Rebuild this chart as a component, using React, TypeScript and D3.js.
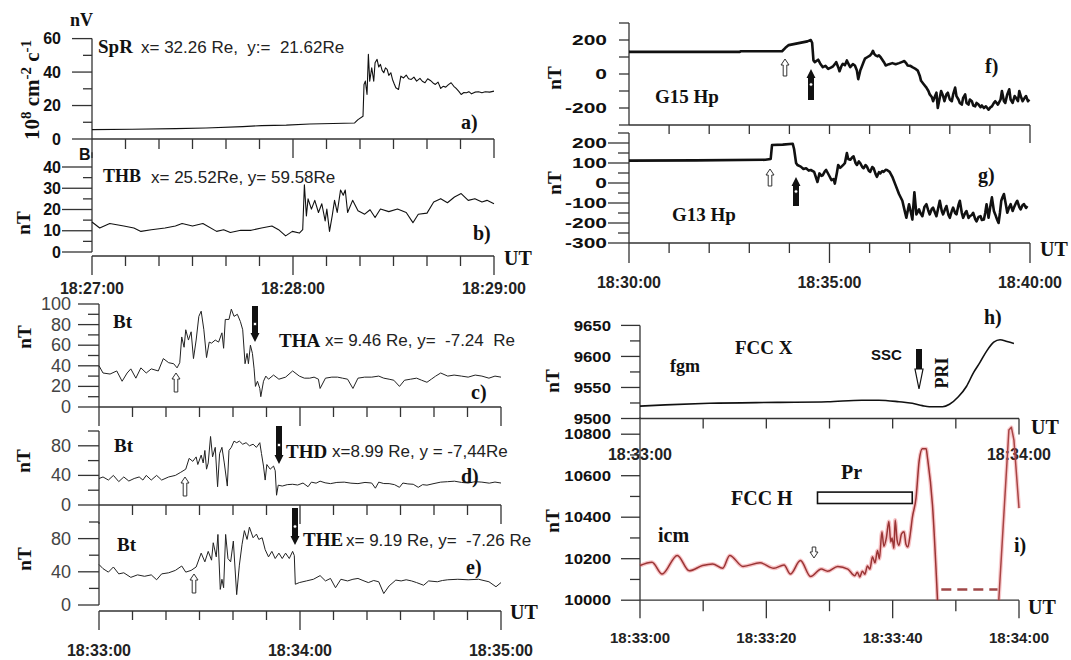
import React from "react";
import * as d3 from "d3";

type Pt = [number, number];

// ---------------- tick labels ----------------
const leftTopTimeLabels = ["18:27:00", "18:28:00", "18:29:00"];
const leftBottomTimeLabels = ["18:33:00", "18:34:00", "18:35:00"];
const goesTimeLabels = ["18:30:00", "18:35:00", "18:40:00"];
const fccXTimeLabels = ["18:33:00", "18:34:00"];
const fccHTimeLabels = ["18:33:00", "18:33:20", "18:33:40", "18:34:00"];

const aMajor = [0, 20, 40, 60];
const aMinor = [10, 30, 50];
const bMajor = [0, 10, 20, 30, 40];
const bMinor = [5, 15, 25, 35];
const cMajor = [0, 20, 40, 60, 80, 100];
const cMinor = [10, 30, 50, 70, 90];
const deMajor = [0, 40, 80];
const deMinor = [20, 60, 100];
const fMajor = [-200, 0, 200];
const fMinor = [-300, -100, 100, 300];
const gMajor = [-300, -200, -100, 0, 100, 200];
const gMinor = [-250, -150, -50, 50, 150, 250];
const hMajor = [9500, 9550, 9600, 9650];
const hMinor = [9525, 9575, 9625];
const iMajor = [10000, 10200, 10400, 10600, 10800];
const iMinor = [10100, 10300, 10500, 10700];

// ---------------- series (seconds from panel start, value) ----------------
// a) SpR flux, from 18:27:00
const sprFlux: Pt[] = [
  [0, 5.6], [12, 5.8], [25, 6.2], [34, 6.6], [45, 7.4], [50.6, 8], [58, 8.3], [65, 9], [72, 9.3], [78.4, 9.6],
  [79.4, 11.6], [80.9, 13.6], [81.2, 32.6], [81.6, 34.6], [82.1, 26.6], [82.5, 50.6], [82.9, 34.6], [83.5, 42.6],
  [84.1, 34.6], [84.5, 45.6], [85.1, 47.6], [85.6, 43], [86.1, 44.6], [86.6, 41], [87.1, 39.6], [87.6, 42.5],
  [88.1, 41.6], [88.6, 38], [89.2, 39.6], [89.7, 35.6], [90.2, 33], [90.7, 30.6], [91.5, 29.6], [92.2, 37.6],
  [93, 36.5], [93.8, 38.2], [94.5, 36], [95.3, 35.6], [96.1, 37], [96.9, 34.6], [97.9, 36.2], [98.6, 34.5],
  [99.4, 33.6], [100.2, 36], [101, 35], [101.8, 33.5], [102.5, 32.6], [103.3, 34], [104.1, 30.2], [104.8, 31.5],
  [105.6, 31], [106.4, 32.5], [107.2, 33.6], [108, 31.5], [108.7, 30.2], [109.5, 28.5], [110.2, 26.6], [111, 27.8],
  [111.8, 27.6], [112.5, 28.3], [113.3, 27], [114.3, 28], [115.4, 28.2], [116.4, 27.6], [117.4, 28.2], [118.7, 28], [120, 28.6],
];

// b) THB |B|, from 18:27:00
const thbB: Pt[] = [
  [0, 14.1], [2.3, 11.3], [5.3, 13.4], [9.5, 12.2], [12.5, 11.3], [14.6, 9.7], [17.7, 10.5], [21.8, 11.3], [24.9, 12.2],
  [26.9, 13.4], [30, 12.2], [33.1, 13.4], [37.2, 9.7], [39.3, 10.5], [41.3, 9.2], [44.4, 10.2], [47.5, 10.2], [50.6, 11.3],
  [53.7, 12.2], [55.7, 10.5], [57.8, 7.6], [59.8, 9.7], [61.9, 8.9], [62.9, 10.5], [63.4, 31.6], [64, 17], [64.5, 25],
  [65.5, 20.2], [66.5, 24.3], [67.6, 18.6], [68.6, 22.7], [69.6, 14.6], [70.1, 20.2], [70.9, 9.7], [71.7, 17], [72.4, 24.3],
  [73.2, 18.6], [74.2, 29.2], [75, 26.7], [75.6, 29.2], [76.3, 18.6], [77.8, 24.3], [79.4, 19.4], [81.4, 17.8], [83, 19.9],
  [84.5, 16.2], [86.1, 20.2], [88.6, 19], [91.2, 20.2], [93.8, 18.6], [95.8, 13.8], [97.4, 17.8], [100, 18.3], [102, 23.5],
  [104.1, 25.1], [106.1, 23.2], [108.2, 25.9], [110.2, 27.5], [112.3, 24.3], [114.3, 25.1], [116.4, 23.5], [117.9, 24.3], [120, 22.7],
];

// c) THA Bt, from 18:33:00
const thaBt: Pt[] = [
  [0, 40], [1.2, 33], [3.3, 32], [5.3, 35], [6.9, 25], [8.4, 33], [9.5, 37], [11, 28], [12.5, 38], [14.1, 33], [15.6, 37],
  [17.7, 35], [19.2, 47], [20.8, 43], [22.3, 42], [23.3, 38], [24.1, 43], [24.7, 68], [25.4, 58], [25.9, 75], [26.7, 65],
  [27.5, 73], [28.2, 47], [29, 65], [29.8, 88], [30.5, 93], [31.3, 75], [32.1, 48], [32.9, 63], [33.6, 62], [34.7, 65],
  [35.7, 63], [36.7, 72], [37.2, 57], [37.7, 85], [38.8, 85], [39.5, 95], [40.3, 88], [41.3, 90], [42.2, 83], [42.9, 75],
  [43.6, 42], [44.2, 52], [44.6, 42], [45.2, 60], [45.8, 52], [46.3, 37], [46.7, 20], [47.3, 25], [48, 18], [48.3, 10],
  [49.1, 25], [49.8, 30], [50.6, 27], [52.1, 31], [53.7, 27], [55.7, 29], [57.8, 35], [59.8, 30], [61.3, 28], [62.9, 28],
  [64.2, 29], [65.5, 27], [66, 18], [67.6, 28], [69.5, 29], [71.2, 29], [72.7, 28], [74.2, 27], [75.8, 18], [77.3, 28],
  [79.3, 29], [81.4, 29], [83.5, 30], [85, 28], [86.6, 27], [88, 26], [89.7, 20], [91.2, 26], [93, 27], [94.8, 28],
  [96.3, 26], [97.9, 24], [99.2, 27], [100.5, 30], [102, 33], [104.1, 30], [106, 31], [108.2, 30], [110.2, 29],
  [112.3, 31], [114.3, 30], [116.4, 28], [118.2, 30], [120, 29],
];

// d) THD Bt, from 18:33:00
const thdBt: Pt[] = [
  [0, 35.8], [1.2, 37.9], [2.8, 33.7], [4.3, 40], [5.9, 31.6], [7.4, 37.9], [8.9, 32.4], [10.5, 35.8], [12, 37.9],
  [13.1, 33.7], [14.1, 40], [15.6, 33.7], [17.2, 40], [18.7, 33.7], [20.8, 37.9], [22.8, 40], [24.4, 44.2], [25.9, 48.4],
  [26.9, 63], [28, 59], [29, 65], [29.5, 54.7], [30.5, 67.4], [31.1, 56.8], [31.6, 73.7], [32.1, 48.4], [32.6, 56.8],
  [33.3, 92.6], [33.9, 65], [34.7, 77.9], [35.4, 24.7], [36, 69.5], [36.7, 77.9], [37.4, 56.8], [38.3, 25.6], [38.8, 73.7],
  [39.5, 77.9], [40.3, 86.3], [41.1, 84.2], [41.9, 86.3], [42.9, 82.1], [43.9, 84.2], [44.9, 80], [46, 82.1], [47, 77.9],
  [48, 84.2], [48.5, 69.5], [49.1, 52.6], [49.6, 33.7], [50.1, 54.7], [51.1, 48.4], [52.1, 52.6], [52.6, 46.3], [53, 13.2],
  [53.5, 26.8], [54.7, 25.6], [56.2, 27.5], [57.8, 28], [59.3, 27], [60.9, 29.7], [62.4, 24.7], [63.4, 30.9], [64.8, 29.5],
  [66, 32.2], [67.5, 30], [69.1, 28.9], [71, 30.5], [73.2, 30.9], [75.2, 29.5], [77.3, 28.9], [79.4, 30.5], [81.4, 29.7],
  [82.5, 22.7], [83.5, 30.9], [85, 29], [86.6, 28.9], [88.2, 27.5], [89.7, 23.9], [90.7, 29.7], [92.2, 28.5], [93.8, 28],
  [95.3, 23.9], [96.6, 27.5], [97.9, 26.8], [100, 29], [102, 30.9], [104, 31.5], [106.1, 32.2], [108.2, 30.5],
  [110.2, 29.7], [112.3, 31.5], [114.3, 30.9], [116.5, 29.5], [118.2, 31], [120, 29.7],
];

// e) THE Bt, from 18:33:00
const theBt: Pt[] = [
  [0, 48.8], [1.2, 43.8], [2.8, 39.6], [4.3, 45.8], [5.9, 37.5], [7.4, 38.8], [9.5, 33.3], [11.5, 36.3], [13.6, 34.6],
  [15.6, 36.3], [17.2, 30.4], [18.7, 37.5], [20.8, 38.8], [22.8, 41.7], [24.7, 47], [25.9, 39.6], [27.5, 41.7], [29, 45.8],
  [30.5, 62.5], [31.6, 52], [32.6, 64.6], [33.6, 54], [34.1, 75], [35, 58], [35.5, 85], [36.2, 18.8], [36.7, 31],
  [37.2, 20.8], [37.8, 85], [38.5, 56], [39.3, 52], [40.1, 77], [41.1, 12.5], [41.9, 48], [42.7, 73], [43.4, 89.6],
  [44.2, 79], [44.9, 93.8], [46, 81], [47, 85.4], [47.7, 79], [48.7, 81], [49.6, 66.7], [50.6, 58], [51.6, 64.6],
  [52.6, 56], [53.7, 62.5], [54.7, 56], [55.7, 62.5], [56.8, 56], [57.8, 64.6], [58.3, 59.6], [58.6, 25], [59.8, 27],
  [61.9, 29], [64, 31], [66, 35.4], [67.6, 29], [69.1, 32], [70.6, 20.8], [72.2, 31], [74.2, 29], [75.8, 31], [77.3, 32],
  [78.8, 29.5], [80.4, 27], [82, 29.5], [83.5, 28], [85, 13.8], [86.6, 23], [88.6, 30], [90.2, 29], [91.7, 30.4],
  [93.3, 29], [94.8, 27], [96.9, 23.8], [98.4, 29], [101, 28], [102.5, 29.5], [104.1, 30.4], [107.1, 31], [110.2, 30.4],
  [113.3, 31], [116.4, 28], [118.5, 22], [120, 27],
];

// f) GOES-15 Hp, from 18:30:00
const g15Hp: Pt[] = [
  [0, 130], [166, 130], [167, 134], [229, 134], [234, 154], [239, 170], [252, 180], [267, 192], [272, 200], [274, 184],
  [276, 80], [278, 70], [283, 84], [286, 62], [290, 40], [294, 48], [298, 30], [302, 38], [305, 44], [308, 58], [310, 70],
  [313, 40], [315, 16], [318, 48], [320, 60], [323, 52], [326, 80], [328, 62], [331, 40], [335, 58], [338, 50], [341, 20],
  [343, -30], [346, 20], [348, 40], [351, 70], [353, 90], [357, 100], [361, 110], [363, 120], [365, 136], [367, 118],
  [369, 110], [372, 104], [374, 110], [377, 96], [379, 84], [382, 66], [384, 50], [389, 58], [394, 64], [399, 58],
  [404, 64], [408, 70], [412, 76], [415, 62], [417, 50], [421, 48], [424, 40], [428, 32], [432, 20], [435, -10],
  [437, -40], [441, -60], [445, -80], [448, -100], [450, -120], [453, -135], [455, -160], [458, -130], [460, -110],
  [462, -200], [465, -140], [467, -100], [470, -130], [472, -160], [475, -120], [477, -110], [480, -150], [483, -160],
  [485, -120], [488, -80], [490, -130], [493, -150], [495, -170], [498, -180], [500, -140], [503, -120], [505, -170],
  [508, -180], [510, -150], [513, -160], [515, -185], [518, -190], [520, -170], [523, -180], [526, -195], [528, -185],
  [531, -200], [534, -190], [538, -210], [541, -195], [543, -190], [546, -170], [548, -160], [552, -180], [556, -150],
  [558, -100], [561, -160], [563, -170], [566, -120], [569, -90], [571, -150], [574, -170], [577, -130], [579, -140],
  [582, -160], [584, -100], [587, -140], [589, -160], [592, -140], [594, -130], [597, -160], [599, -150],
];

// g) GOES-13 Hp, from 18:30:00
const g13Hp: Pt[] = [
  [0, 112], [100, 113], [204, 116], [212, 120], [214, 190], [230, 192], [245, 196], [247, 170], [250, 100], [252, 90],
  [257, 82], [261, 70], [265, 74], [269, 62], [272, 65], [277, 56], [282, 5], [285, 48], [288, 36], [290, 39], [293, 58],
  [295, 65], [299, 40], [303, 14], [306, 20], [308, -3], [311, 50], [313, 90], [316, 76], [318, 82], [321, 92], [323, 99],
  [326, 150], [328, 120], [331, 116], [334, 128], [336, 133], [339, 100], [341, 90], [344, 108], [346, 99], [349, 80],
  [351, 74], [354, 90], [356, 82], [359, 60], [361, 56], [364, 80], [366, 74], [369, 44], [371, 31], [374, 54], [376, 48],
  [379, 60], [381, 56], [384, 66], [386, 65], [390, 56], [394, 31], [399, -12], [404, -55], [409, -89], [412, -132],
  [415, -174], [419, -106], [422, -150], [424, -183], [427, -46], [430, -157], [434, -132], [436, -150], [439, -166],
  [442, -120], [445, -106], [448, -140], [450, -157], [453, -130], [455, -123], [458, -150], [460, -166], [463, -120],
  [465, -89], [468, -140], [470, -157], [473, -130], [475, -115], [478, -160], [480, -174], [483, -140], [485, -123],
  [488, -150], [490, -157], [493, -110], [495, -89], [498, -150], [500, -174], [503, -150], [505, -140], [508, -175],
  [510, -166], [513, -160], [515, -149], [518, -180], [520, -192], [523, -170], [526, -166], [528, -185], [531, -183],
  [533, -150], [535, -106], [537, -150], [538, -174], [541, -110], [543, -72], [546, -140], [548, -157], [551, -185],
  [553, -200], [555, -150], [557, -89], [559, -70], [561, -55], [564, -110], [566, -149], [569, -120], [571, -106],
  [574, -140], [576, -123], [579, -100], [581, -89], [584, -120], [586, -132], [589, -110], [591, -106], [594, -125], [596, -115],
];

// h) FCC X (fgm), from 18:33:00
const fccX: Pt[] = [
  [0, 9520], [4, 9522], [11, 9524.5], [21.7, 9526], [29.7, 9527], [35.1, 9529.5], [37.8, 9529.5], [41, 9527],
  [43.1, 9524.5], [44.7, 9520.7], [45.8, 9519], [47.9, 9519], [49, 9523], [50.4, 9535], [51.7, 9552], [52.8, 9574],
  [53.8, 9590], [54.9, 9609], [56, 9623], [57, 9627], [58.1, 9624], [59.2, 9621],
];

// i) FCC H (icm), from 18:33:00
const fccH: Pt[] = [
  [0, 10167], [1.9, 10183], [3.5, 10126], [5.9, 10216], [7.8, 10142], [9.9, 10167], [11.5, 10175], [13.1, 10154],
  [14.2, 10216], [16.3, 10163], [19, 10180], [21.2, 10154], [22.8, 10170], [23.8, 10126], [25.4, 10191], [27, 10114],
  [28.7, 10150], [29.7, 10140], [31.3, 10163], [32.9, 10150], [34, 10118], [34.4, 10135], [34.8, 10112], [35.2, 10140],
  [35.6, 10125], [36, 10165], [36.4, 10150], [36.8, 10210], [37.2, 10180], [37.6, 10240], [37.9, 10200], [38.3, 10330],
  [38.6, 10260], [39, 10300], [39.4, 10379], [39.7, 10280], [39.9, 10300], [40.2, 10250], [40.4, 10387], [40.7, 10290],
  [41, 10265], [41.4, 10320], [41.8, 10330], [42.1, 10270], [42.4, 10256], [42.7, 10300], [42.9, 10346], [43.1, 10395],
  [43.7, 10493], [44.2, 10673], [44.7, 10730], [45.3, 10730], [45.5, 10689], [46.3, 10460], [47.1, 10000],
];
const fccHGap: Pt[] = [[47.7, 10052], [56.6, 10052]];
const fccHAfter: Pt[] = [[56.8, 10000], [57.6, 10411], [58.4, 10820], [58.8, 10833], [59.2, 10771], [60, 10444]];
const prInterval: Pt[] = [[28.1, 10521], [43.1, 10466]];

// ---------------- drawing helpers ----------------
const SANS = "'Liberation Sans', Arial, Helvetica, sans-serif";
const SERIF = "'Liberation Serif', 'Times New Roman', Times, serif";
const AX = "#333";
type Lin = d3.ScaleLinear<number, number>;

function YAxis(p: {
  x: number; y: Lin; top: number; bottom: number; majors: number[]; minors: number[];
  majLen: number; minLen: number; labelX: number; size: number; weight?: string; color?: string; sx?: number;
}) {
  const sx = p.sx ?? 1;
  return (
    <g>
      <line x1={p.x} x2={p.x} y1={p.y(p.top)} y2={p.y(p.bottom)} stroke={AX} strokeWidth={1.3} />
      {p.majors.map((v) => (
        <line key={"M" + v} x1={p.x - p.majLen} x2={p.x} y1={p.y(v)} y2={p.y(v)} stroke={AX} strokeWidth={1.3} />
      ))}
      {p.minors.map((v) => (
        <line key={"m" + v} x1={p.x - p.minLen} x2={p.x} y1={p.y(v)} y2={p.y(v)} stroke={AX} strokeWidth={1.3} />
      ))}
      {p.majors.map((v) => (
        <text key={"t" + v} transform={`translate(${p.labelX},${p.y(v)}) scale(${sx},1)`} textAnchor="end"
          dominantBaseline="central" fontFamily={SANS} fontSize={p.size} fontWeight={p.weight ?? "bold"}
          fill={p.color ?? "#111"}>{v}</text>
      ))}
    </g>
  );
}

function XAxis(p: { y0: number; x: Lin; from: number; to: number; majors: number[]; minors: number[]; majLen: number; minLen: number }) {
  return (
    <g>
      <line x1={p.x(p.from)} x2={p.x(p.to)} y1={p.y0} y2={p.y0} stroke={AX} strokeWidth={1.3} />
      {p.majors.map((v) => (
        <line key={"M" + v} x1={p.x(v)} x2={p.x(v)} y1={p.y0} y2={p.y0 + p.majLen} stroke={AX} strokeWidth={1.3} />
      ))}
      {p.minors.map((v) => (
        <line key={"m" + v} x1={p.x(v)} x2={p.x(v)} y1={p.y0} y2={p.y0 + p.minLen} stroke={AX} strokeWidth={1.3} />
      ))}
    </g>
  );
}

function Trace(p: { data: Pt[]; x: Lin; y: Lin; stroke: string; width: number; curve?: d3.CurveFactory; dash?: string; opacity?: number }) {
  const gen = d3.line<Pt>().x((d) => p.x(d[0])).y((d) => p.y(d[1]));
  if (p.curve) gen.curve(p.curve);
  return (
    <path d={gen(p.data) ?? ""} fill="none" stroke={p.stroke} strokeWidth={p.width} strokeLinejoin="round"
      strokeDasharray={p.dash} opacity={p.opacity ?? 1} />
  );
}

function OpenArrow({ x, tip, tail }: { x: number; tip: number; tail: number }) {
  const dir = tail > tip ? 1 : -1;
  const h = 6 * dir;
  const d = `M${x},${tip} L${x + 4},${tip + h} L${x + 1.8},${tip + h} L${x + 1.8},${tail} L${x - 1.8},${tail} L${x - 1.8},${tip + h} L${x - 4},${tip + h} Z`;
  return <path d={d} fill="#fff" stroke="#333" strokeWidth={1} />;
}

function BlackArrow({ x, tip, tail }: { x: number; tip: number; tail: number }) {
  const dir = tail > tip ? 1 : -1;
  const h = 9 * dir;
  const d = `M${x},${tip} L${x + 4.5},${tip + h} L${x + 3},${tip + h} L${x + 3},${tail} L${x - 3},${tail} L${x - 3},${tip + h} L${x - 4.5},${tip + h} Z`;
  const mid = (tip + tail) / 2;
  return (
    <g>
      <path d={d} fill="#111" />
      <circle cx={x} cy={mid} r={1.8} fill="#fff" stroke="#111" strokeWidth={0.8} />
    </g>
  );
}

function T(p: { x: number; y: number; children: React.ReactNode; size: number; serif?: boolean; weight?: string; anchor?: string; fill?: string }) {
  return (
    <text x={p.x} y={p.y} fontFamily={p.serif ? SERIF : SANS} fontSize={p.size} fontWeight={p.weight ?? "normal"}
      textAnchor={p.anchor ?? "start"} dominantBaseline="central" fill={p.fill ?? "#111"}
      style={{ whiteSpace: "pre" }}>{p.children}</text>
  );
}

function VLabel({ x, y, text, size = 19 }: { x: number; y: number; text: string; size?: number }) {
  return (
    <text transform={`translate(${x},${y}) rotate(-90)`} textAnchor="middle" fontFamily={SERIF} fontWeight="bold"
      fontSize={size} fill="#111">{text}</text>
  );
}

export default function App() {
  const range = (a: number, b: number, s: number) => d3.range(a, b + 0.001, s);

  // left top panels (18:27 - 18:29)
  const xTop = d3.scaleLinear().domain([0, 120]).range([92, 494]);
  const yA = d3.scaleLinear().domain([0, 60]).range([139, 38.6]);
  const yB = d3.scaleLinear().domain([0, 40]).range([252, 167]);
  // left bottom panels (18:33 - 18:35)
  const xBot = d3.scaleLinear().domain([0, 120]).range([99, 501]);
  const yC = d3.scaleLinear().domain([0, 100]).range([407, 304]);
  const yD = d3.scaleLinear().domain([0, 100]).range([505, 431]);
  const yE = d3.scaleLinear().domain([0, 100]).range([605, 522]);
  // GOES panels (18:30 - 18:40)
  const xG = d3.scaleLinear().domain([0, 600]).range([629, 1030]);
  const yF = d3.scaleLinear().domain([-300, 300]).range([125, 23]);
  const yG = d3.scaleLinear().domain([-300, 250]).range([243, 133]);
  // FCC panels (18:33:00 - 18:34:00)
  const xF = d3.scaleLinear().domain([0, 60]).range([640, 1019]);
  const yH = d3.scaleLinear().domain([9500, 9650]).range([418.5, 325.4]);
  const yI = d3.scaleLinear().domain([10000, 10800]).range([600.2, 434.2]);

  const tenSec = range(0, 120, 10);
  const minorTop = tenSec.filter((v) => v % 60 !== 0);
  const minute = range(0, 600, 60);
  const goesMinor = minute.filter((v) => v % 300 !== 0);

  return (
    <svg width={1071} height={660} viewBox="0 0 1071 660"
      style={{ position: "absolute", left: 0, top: 0, display: "block", background: "#fff" }}>
      <rect x={0} y={0} width={1071} height={660} fill="#fff" />

      {/* ---------- panel a ---------- */}
      <YAxis x={92} y={yA} top={60} bottom={0} majors={aMajor} minors={aMinor} majLen={20} minLen={9} labelX={61} size={16} />
      <XAxis y0={139} x={xTop} from={0} to={120} majors={[0, 60, 120]} minors={minorTop} majLen={19} minLen={10} />
      <Trace data={sprFlux} x={xTop} y={yA} stroke="#111" width={1.1} />
      <T x={70} y={20} size={18} serif weight="bold">nV</T>
      <text transform="translate(39,90) rotate(-90)" textAnchor="middle" fontFamily={SERIF} fontWeight="bold" fontSize={21} fill="#111">
        10<tspan dy={-8} fontSize={15}>8</tspan><tspan dy={8}> cm</tspan><tspan dy={-8} fontSize={15}>-2</tspan>
        <tspan dy={8}> c</tspan><tspan dy={-8} fontSize={15}>-1</tspan>
      </text>
      <T x={98} y={46} size={19} serif weight="bold">SpR</T>
      <T x={141} y={47} size={17} fill="#222">{"x= 32.26 Re,  y:=  21.62Re"}</T>
      <T x={461} y={122} size={20} serif weight="bold">a)</T>

      {/* ---------- panel b ---------- */}
      <T x={79} y={154} size={16} weight="bold">B</T>
      <YAxis x={92} y={yB} top={47} bottom={0} majors={bMajor} minors={bMinor} majLen={30} minLen={9} labelX={61} size={16} />
      <XAxis y0={256} x={xTop} from={0} to={120} majors={[0, 60, 120]} minors={minorTop} majLen={19} minLen={10} />
      <Trace data={thbB} x={xTop} y={yB} stroke="#111" width={1.1} />
      <VLabel x={30} y={223} text="nT" />
      <T x={103} y={176} size={18} serif weight="bold">THB</T>
      <T x={151} y={177} size={17} fill="#222">{"x= 25.52Re, y= 59.58Re"}</T>
      <T x={473} y={233} size={20} serif weight="bold">b)</T>
      <T x={504} y={258} size={20} serif weight="bold">UT</T>
      {leftTopTimeLabels.map((s, i) => (
        <T key={s} x={xTop(i * 60)} y={288} size={16} weight="bold" anchor="middle" fill="#222">{s}</T>
      ))}

      {/* ---------- panel c ---------- */}
      <YAxis x={99} y={yC} top={100} bottom={0} majors={cMajor} minors={cMinor} majLen={21} minLen={11} labelX={71} size={18} weight="normal" color="#444" />
      <XAxis y0={407} x={xBot} from={0} to={120} majors={[0, 60, 120]} minors={minorTop} majLen={19} minLen={10} />
      <Trace data={thaBt} x={xBot} y={yC} stroke="#222" width={1} />
      <VLabel x={31} y={337} text="nT" />
      <T x={113} y={321} size={19} serif weight="bold">Bt</T>
      <T x={279} y={340} size={19} serif weight="bold">THA</T>
      <T x={325} y={340} size={17} fill="#222">{"x= 9.46 Re, y=  -7.24  Re"}</T>
      <T x={471} y={392} size={20} serif weight="bold">c)</T>
      <BlackArrow x={255} tip={342} tail={306} />
      <OpenArrow x={176} tip={373} tail={392} />

      {/* ---------- panel d ---------- */}
      <YAxis x={99} y={yD} top={100} bottom={0} majors={deMajor} minors={deMinor} majLen={21} minLen={11} labelX={71} size={18} weight="normal" color="#444" />
      <XAxis y0={505} x={xBot} from={0} to={120} majors={[0, 60, 120]} minors={minorTop} majLen={19} minLen={10} />
      <Trace data={thdBt} x={xBot} y={yD} stroke="#222" width={1} />
      <VLabel x={30} y={461} text="nT" />
      <T x={114} y={445} size={19} serif weight="bold">Bt</T>
      <T x={286} y={451} size={19} serif weight="bold">THD</T>
      <T x={332} y={451} size={17} fill="#222">{"x=8.99 Re, y = -7,44Re"}</T>
      <T x={461} y={476} size={20} serif weight="bold">d)</T>
      <BlackArrow x={279} tip={464} tail={426} />
      <OpenArrow x={185} tip={477} tail={496} />

      {/* ---------- panel e ---------- */}
      <YAxis x={99} y={yE} top={100} bottom={0} majors={deMajor} minors={deMinor} majLen={21} minLen={10} labelX={71} size={18} weight="normal" color="#444" />
      <XAxis y0={611} x={xBot} from={0} to={120} majors={[0, 60, 120]} minors={minorTop} majLen={19} minLen={9} />
      <Trace data={theBt} x={xBot} y={yE} stroke="#222" width={1} />
      <VLabel x={31} y={559} text="nT" />
      <T x={117} y={544} size={19} serif weight="bold">Bt</T>
      <T x={303} y={539} size={19} serif weight="bold">THE</T>
      <T x={346} y={540} size={17} fill="#222">{"x= 9.19 Re, y=  -7.26 Re"}</T>
      <T x={466} y={567} size={20} serif weight="bold">e)</T>
      <BlackArrow x={295} tip={545} tail={508} />
      <OpenArrow x={194} tip={574} tail={593} />
      <T x={510} y={612} size={20} serif weight="bold">UT</T>
      {leftBottomTimeLabels.map((s, i) => (
        <T key={s} x={xBot(i * 60)} y={650} size={16} weight="bold" anchor="middle" fill="#222">{s}</T>
      ))}

      {/* ---------- panel f ---------- */}
      <YAxis x={629} y={yF} top={300} bottom={-300} majors={fMajor} minors={fMinor} majLen={10} minLen={10} labelX={607} size={15} sx={1.4} />
      <XAxis y0={125} x={xG} from={0} to={600} majors={[600]} minors={minute.slice(1, 10)} majLen={18} minLen={9} />
      <Trace data={g15Hp} x={xG} y={yF} stroke="#111" width={2.6} />
      <VLabel x={561} y={78} text="nT" />
      <T x={655} y={96} size={19} serif weight="bold">G15 Hp</T>
      <T x={985} y={66} size={20} serif weight="bold">f)</T>
      <OpenArrow x={785} tip={59} tail={76} />
      <BlackArrow x={811} tip={69} tail={100} />

      {/* ---------- panel g ---------- */}
      <YAxis x={629} y={yG} top={250} bottom={-300} majors={gMajor} minors={gMinor} majLen={21} minLen={11} labelX={607} size={15} sx={1.4} />
      <XAxis y0={243} x={xG} from={0} to={600} majors={[0, 300, 600]} minors={goesMinor} majLen={20} minLen={10} />
      <Trace data={g13Hp} x={xG} y={yG} stroke="#111" width={2.6} />
      <VLabel x={561} y={183} text="nT" />
      <T x={672} y={214} size={19} serif weight="bold">G13 Hp</T>
      <T x={978} y={175} size={20} serif weight="bold">g)</T>
      <OpenArrow x={770} tip={169} tail={186} />
      <BlackArrow x={796} tip={177} tail={206} />
      <T x={1040} y={249} size={20} serif weight="bold">UT</T>
      {goesTimeLabels.map((s, i) => (
        <T key={s} x={xG(i * 300)} y={282} size={16} weight="bold" anchor="middle" fill="#222">{s}</T>
      ))}

      {/* ---------- panel h ---------- */}
      <YAxis x={640} y={yH} top={9650} bottom={9500} majors={hMajor} minors={hMinor} majLen={19} minLen={10} labelX={611} size={15} sx={1.12} />
      <XAxis y0={418.5} x={xF} from={0} to={60} majors={[60]} minors={[10, 20, 30, 40, 50]} majLen={16} minLen={10} />
      <Trace data={fccX} x={xF} y={yH} stroke="#111" width={1.6} curve={d3.curveMonotoneX} />
      <VLabel x={559} y={381} text="nT" />
      <T x={670} y={366} size={18} serif weight="bold">fgm</T>
      <T x={735} y={347} size={19} serif weight="bold">FCC X</T>
      <T x={871} y={354} size={15} weight="bold">SSC</T>
      <path d="M916,349 L922,349 L922,369 L916,369 Z" fill="#111" />
      <path d="M919,389 L923,369 L915,369 Z" fill="#fff" stroke="#111" strokeWidth={1.2} />
      <text transform="translate(948,373) rotate(-90)" textAnchor="middle" fontFamily={SERIF} fontWeight="bold" fontSize={18} fill="#111">PRI</text>
      <T x={984} y={317} size={20} serif weight="bold">h)</T>
      <T x={1031} y={427} size={20} serif weight="bold">UT</T>
      {fccXTimeLabels.map((s, i) => (
        <T key={s} x={xF(i * 60)} y={454} size={16} weight="bold" anchor="middle" fill="#222">{s}</T>
      ))}

      {/* ---------- panel i ---------- */}
      <YAxis x={640} y={yI} top={10880} bottom={10000} majors={iMajor} minors={iMinor} majLen={19} minLen={10} labelX={611} size={15} sx={1.12} />
      <XAxis y0={600.2} x={xF} from={0} to={60} majors={[0, 20, 40, 60]} minors={[10, 30, 50]} majLen={18} minLen={11} />
      <Trace data={fccH} x={xF} y={yI} stroke="#e8505a" width={4} opacity={0.35} curve={d3.curveMonotoneX} />
      <Trace data={fccH} x={xF} y={yI} stroke="#9a3434" width={1.5} curve={d3.curveMonotoneX} />
      <Trace data={fccHAfter} x={xF} y={yI} stroke="#e8505a" width={4} opacity={0.3} />
      <Trace data={fccHAfter} x={xF} y={yI} stroke="#a84444" width={1.5} />
      <Trace data={fccHGap} x={xF} y={yI} stroke="#a04848" width={2.5} dash="10,6" />
      <rect x={xF(prInterval[0][0])} y={yI(prInterval[0][1])} width={xF(prInterval[1][0]) - xF(prInterval[0][0])}
        height={yI(prInterval[1][1]) - yI(prInterval[0][1])} fill="#fff" stroke="#111" strokeWidth={1.6} />
      <VLabel x={559} y={521} text="nT" />
      <T x={841} y={472} size={20} serif weight="bold">Pr</T>
      <T x={731} y={498} size={20} serif weight="bold">FCC H</T>
      <T x={658} y={535} size={20} serif weight="bold">icm</T>
      <OpenArrow x={814} tip={558} tail={547} />
      <T x={1014} y={545} size={20} serif weight="bold">i)</T>
      <T x={1028} y={607} size={20} serif weight="bold">UT</T>
      {fccHTimeLabels.map((s, i) => (
        <T key={s} x={xF(i * 20)} y={637} size={15} weight="bold" anchor="middle" fill="#222">{s}</T>
      ))}
    </svg>
  );
}
